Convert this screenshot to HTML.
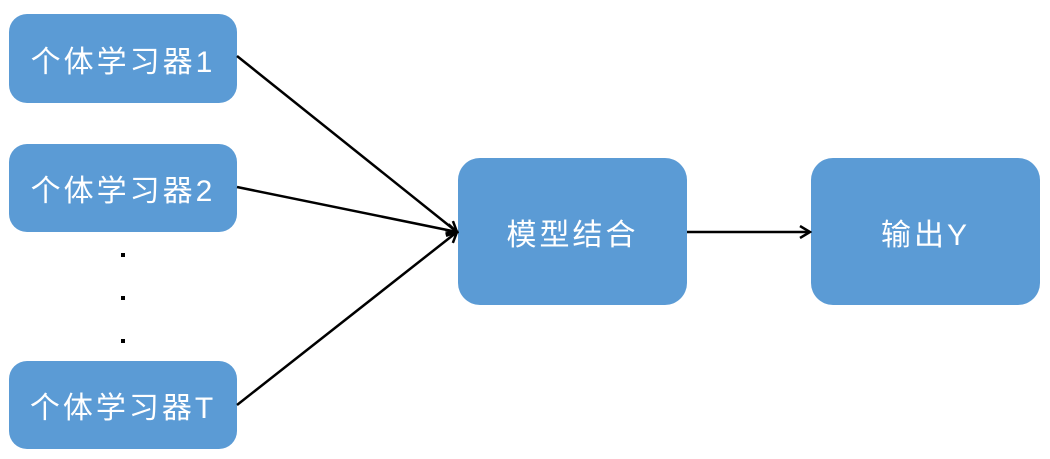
<!DOCTYPE html>
<html><head><meta charset="utf-8"><style>
body{margin:0;width:1050px;height:459px;background:#fff;position:relative;overflow:hidden;font-family:"Liberation Sans","Noto Sans CJK SC",sans-serif;}
.b{position:absolute;background:#5b9bd5;border-radius:18px;color:#fff;display:flex;align-items:center;justify-content:center;font-size:30px;letter-spacing:3px;}
svg{position:absolute;left:0;top:0}
</style></head><body>
<div class="b" style="left:9px;top:14px;width:228px;height:89px">个体学习器1</div>
<div class="b" style="left:9px;top:144px;width:228px;height:88px">个体学习器2</div>
<div class="b" style="left:9px;top:361px;width:228px;height:88px">个体学习器T</div>
<div class="b" style="left:458px;top:158px;width:229px;height:147px;border-radius:22px">模型结合</div>
<div class="b" style="left:811px;top:158px;width:229px;height:147px;border-radius:22px">输出Y</div>
<svg width="1050" height="459">
<defs><marker id="a" markerWidth="14" markerHeight="14" refX="12" refY="7" orient="auto" markerUnits="userSpaceOnUse"><path d="M2,1 L12,7 L2,13" fill="none" stroke="#000" stroke-width="2.5"/></marker></defs>
<g stroke="#000" stroke-width="2.5" fill="none">
<line x1="237" y1="56" x2="457" y2="232" marker-end="url(#a)"/>
<line x1="237" y1="187" x2="457" y2="232" marker-end="url(#a)"/>
<line x1="237" y1="405" x2="457" y2="232" marker-end="url(#a)"/>
<line x1="687" y1="232" x2="810" y2="232" marker-end="url(#a)"/>
</g>
<rect x="121" y="253" width="4" height="4"/><rect x="121" y="296" width="4" height="4"/><rect x="121" y="339" width="4" height="4"/>
</svg>
</body></html>
